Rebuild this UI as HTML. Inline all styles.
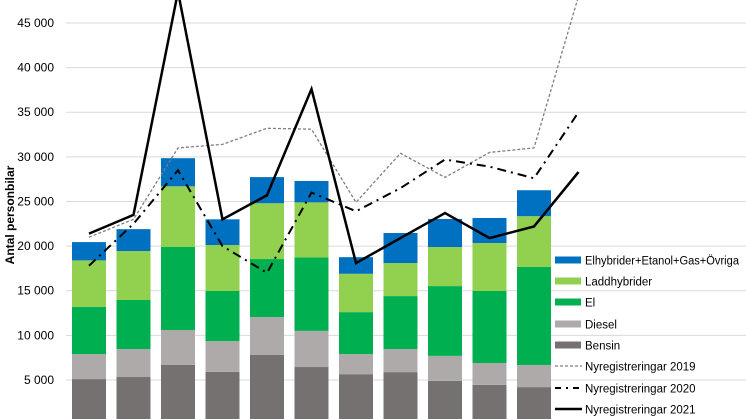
<!DOCTYPE html>
<html><head><meta charset="utf-8"><style>
html,body{margin:0;padding:0;background:#fff;width:746px;height:419px;overflow:hidden}
svg{display:block;font-family:"Liberation Sans",sans-serif}
</style></head><body>
<svg id="c" width="746" height="419" viewBox="0 0 746 419" xmlns="http://www.w3.org/2000/svg"></svg>
<script>
const s=document.getElementById('c');
const Y=v=>424.6-v*0.008925;
let h='';
for(let k=1;k<=9;k++){const y=Y(k*5000);h+=`<line x1="66" x2="746" y1="${y}" y2="${y}" stroke="#d9d9d9" stroke-width="1"/>`;
h+=`<text x="54" y="${y+4}" font-size="12" text-anchor="end" fill="#000">${k*5} 000</text>`;}
h+=`<text transform="translate(14,215) rotate(-90)" font-size="12" font-weight="bold" text-anchor="middle">Antal personbilar</text>`;
const bars=[[5100,7900,13200,18400,20450],[5330,8470,13960,19450,21900],[6680,10600,19900,26700,29850],[5900,9360,14970,20120,23000],[7800,12050,18550,24800,27730],[6450,10500,18720,24900,27300],[5650,7900,12600,16900,18760],[5880,8470,14400,18100,21470],[4900,7700,15520,19900,23040],[4450,6900,14970,20350,23150],[4200,6680,17660,23350,26260]];
const cols=['#767171','#aeaaaa','#00b050','#92d050','#0070c0'];
bars.forEach((b,i)=>{const x=72+44.5*i;let prev=0;b.forEach((v,j)=>{const y1=Y(v),y0=Y(prev);h+=`<rect x="${x}" y="${y1}" width="34" height="${y0-y1}" fill="${cols[j]}"/>`;prev=v;});});
const line=(d,st)=>{let p=d.map((v,i)=>`${89+44.5*i},${Y(v)}`).join(' ');h+=`<polyline points="${p}" fill="none" ${st}/>`;};
line([21000,23000,31000,31400,33200,33100,24900,30400,27700,30500,31000,48000],'stroke="#7f7f7f" stroke-width="1.3" stroke-dasharray="3,2"');
line([17800,22500,28500,20000,17000,26000,23900,26500,29700,28900,27600,35000],'stroke="#000" stroke-width="2" stroke-dasharray="9,5,2,5"');
line([21400,23500,48500,23000,25700,37600,18100,20900,23700,20900,22200,28300],'stroke="#000" stroke-width="2.5" stroke-linejoin="miter"');
const lg=['Elhybrider+Etanol+Gas+Övriga','Laddhybrider','El','Diesel','Bensin'];
const lc=['#0070c0','#92d050','#00b050','#aeaaaa','#767171'];
const ly=[260,281,302,324,345,366,388,409];
lg.forEach((t,i)=>{const tl=i==0?' textLength="154" lengthAdjust="spacingAndGlyphs"':'';h+=`<rect x="555" y="${ly[i]-3.5}" width="26" height="7" fill="${lc[i]}"/><text x="585" y="${ly[i]+4.5}" font-size="11.5"${tl}>${t}</text>`;});
const ll=[['Nyregistreringar 2019','stroke="#7f7f7f" stroke-width="1.3" stroke-dasharray="3,2"'],['Nyregistreringar 2020','stroke="#000" stroke-width="2" stroke-dasharray="6,5,2,5"'],['Nyregistreringar 2021','stroke="#000" stroke-width="2.5"']];
ll.forEach((l,i)=>{const y=ly[5+i];h+=`<line x1="555" x2="582" y1="${y}" y2="${y}" ${l[1]}/><text x="585" y="${y+4.5}" font-size="11.5">${l[0]}</text>`;});
s.innerHTML=h;
</script>
</body></html>
